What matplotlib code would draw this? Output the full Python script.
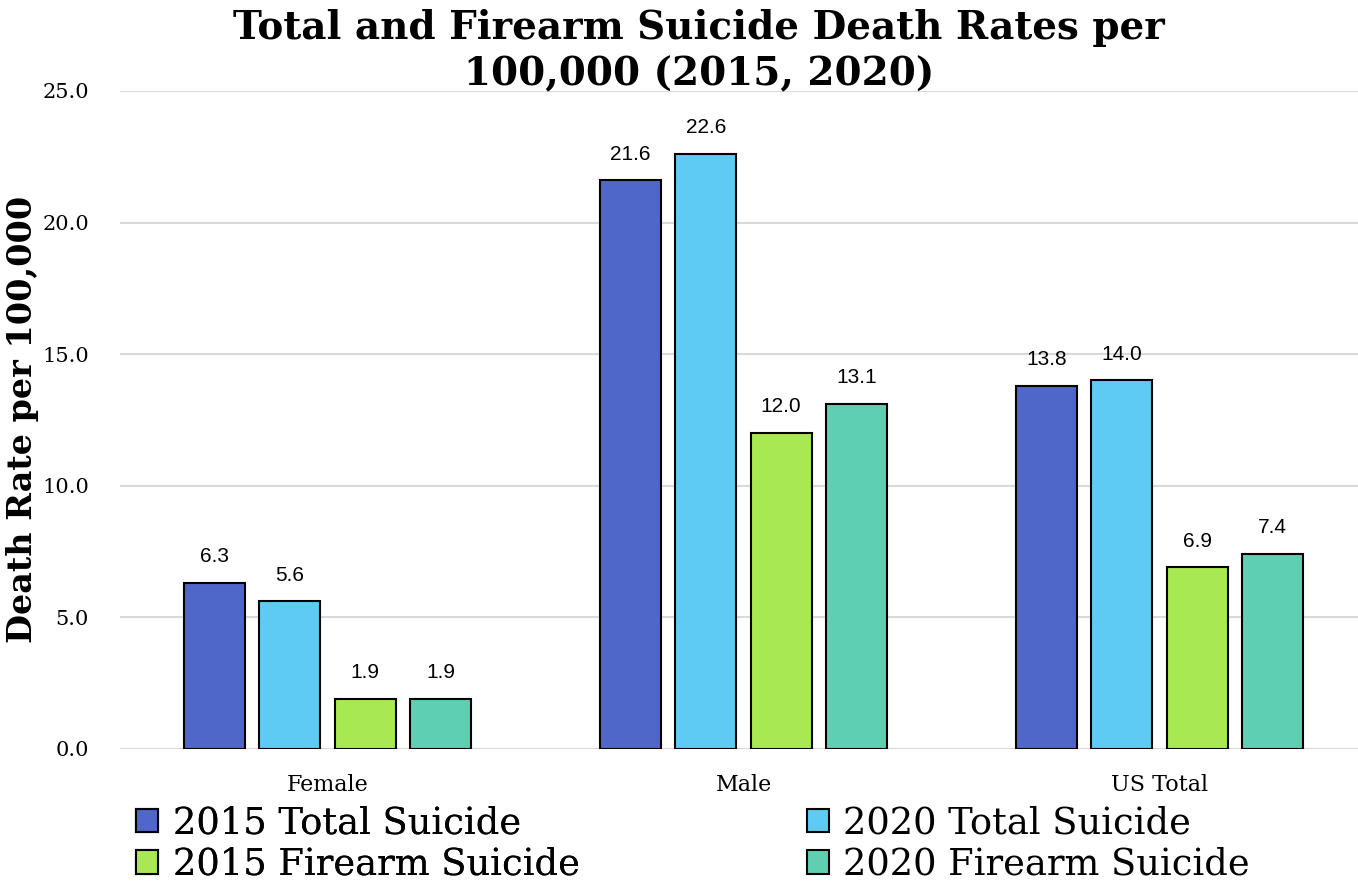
import matplotlib.pyplot as plt
import numpy as np

categories = ["Female", "Male", "US Total"]
series_names = ["2015 Total Suicide", "2020 Total Suicide",
                "2015 Firearm Suicide", "2020 Firearm Suicide"]
total_2015 = [6.3, 21.6, 13.8]
total_2020 = [5.6, 22.6, 14.0]
firearm_2015 = [1.9, 12.0, 6.9]
firearm_2020 = [1.9, 13.1, 7.4]
colors = ["#4F67C8", "#5DCBF3", "#A8E853", "#5ECFB1"]

serif = "DejaVu Serif"
sans = "Liberation Sans"

fig = plt.figure(figsize=(13.58, 8.83), dpi=100)
ax = fig.add_axes([0.088, 0.152, 0.919, 0.745])

x = np.arange(len(categories))
step = 0.181
width = 0.147
handles = []
for i, vals in enumerate([total_2015, total_2020, firearm_2015, firearm_2020]):
	bars = ax.bar(x + (i - 1.5) * step, vals, width, color=colors[i],
		edgecolor="black", linewidth=1.5, label=series_names[i], zorder=3)
	handles.append(bars)
	for b, v in zip(bars, vals):
		ax.annotate("{:.1f}".format(v), (b.get_x() + b.get_width() / 2, v),
			xytext=(0, 12), textcoords="offset points", ha="center", va="bottom",
			fontsize=15, family=sans)

ax.set_xlim(-0.5, 2.5)
ax.set_ylim(0, 25)
ax.set_yticks(np.arange(0, 25.1, 5))
ax.set_yticklabels(["{:.1f}".format(t) for t in np.arange(0, 25.1, 5)], family=serif, fontsize=15)
ax.set_xticks(x)
ax.set_xticklabels(categories, family=serif, fontsize=16)
ax.tick_params(length=0)
ax.tick_params(axis="y", pad=22)
ax.tick_params(axis="x", pad=18)
ax.yaxis.grid(True, color="#D9D9D9", linewidth=1.5, zorder=0)
for s in ax.spines.values():
	s.set_visible(False)

ax.set_ylabel("Death Rate per 100,000", family=serif, fontweight="bold", fontsize=24, labelpad=2)
fig.text(0.515, 0.99, "Total and Firearm Suicide Death Rates per\n100,000 (2015, 2020)",
	ha="center", va="top", family=serif, fontweight="bold", fontsize=28, linespacing=1.3)

leg_font = {"family": serif, "size": 26.5}
opts = dict(loc="upper left", frameon=False, prop=leg_font,
	handlelength=0.6, handleheight=0.6, handletextpad=0.4, labelspacing=0.15,
	borderaxespad=0, borderpad=0)
leg1 = fig.legend([handles[0], handles[2]], [series_names[0], series_names[2]],
	bbox_to_anchor=(0.1, 0.088), **opts)
fig.add_artist(leg1)
fig.legend([handles[1], handles[3]], [series_names[1], series_names[3]],
	bbox_to_anchor=(0.594, 0.088), **opts)

fig.savefig("out.png", dpi=100)
